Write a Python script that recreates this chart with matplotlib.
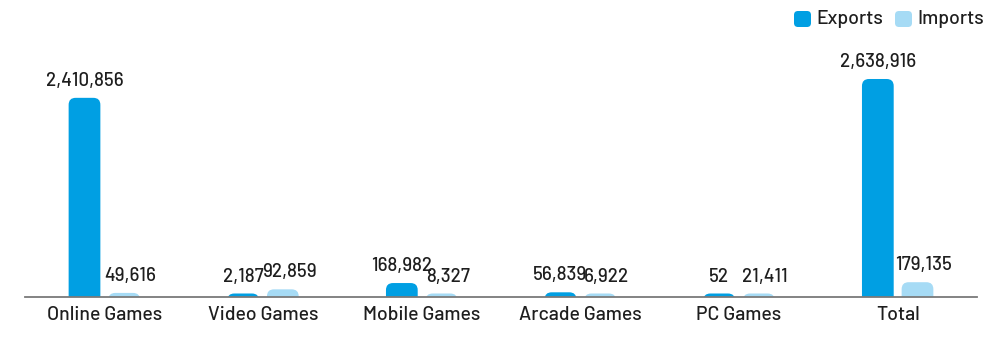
import matplotlib
matplotlib.use('Agg')
import matplotlib.pyplot as plt
from matplotlib.patches import FancyBboxPatch
import numpy as np

categories = ['Online Games', 'Video Games', 'Mobile Games', 'Arcade Games', 'PC Games', 'Total']
exports = [2410856, 2187, 168982, 56839, 52, 2638916]
imports = [49616, 92859, 8327, 6922, 21411, 179135]

EXP_COLOR = '#009fe3'
IMP_COLOR = '#a6dbf5'
TEXT_COLOR = '#1e1e1e'

plt.rcParams['font.family'] = ['Barlow', 'DejaVu Sans']
plt.rcParams['font.weight'] = 500

W, H = 994, 355
fig = plt.figure(figsize=(W / 100, H / 100), dpi=100)

# axes placed in pixel terms: baseline at y=297, categories from x=25 to x=977
ax_left, ax_right, ax_base, ax_top = 25, 977, 297, 20
ax = fig.add_axes([ax_left / W, (H - ax_base) / H, (ax_right - ax_left) / W, (ax_base - ax_top) / H])

n = len(categories)
ymax = 3.353e6
ax.set_xlim(-0.5, n - 0.5)
ax.set_ylim(0, ymax)

px_x = n / (ax_right - ax_left)          # data units per pixel, x
px_y = ymax / (ax_base - ax_top)          # data units per pixel, y
radius = 7 * px_x
min_h = 3.5 * px_y
bar_w = 0.2
offset = 0.125

x = np.arange(n)


def rounded_bar(xc, value, color, dx):
    top = max(value, min_h)
    bottom = -10 * px_y
    patch = FancyBboxPatch((xc - bar_w / 2, bottom), bar_w, top - bottom,
                           boxstyle=f'round,pad=0,rounding_size={radius}',
                           mutation_aspect=px_y / px_x,
                           facecolor=color, edgecolor='none', clip_on=True)
    ax.add_patch(patch)
    ax.annotate(f'{value:,}', (xc, top), xytext=(dx, 8.6), textcoords='offset points',
                ha='center', va='baseline', fontsize=13.5, color=TEXT_COLOR,
                annotation_clip=False)


for i in range(n):
    rounded_bar(x[i] - offset, exports[i], EXP_COLOR, 0)
    rounded_bar(x[i] + offset, imports[i], IMP_COLOR, 4.5)

ax.set_xticks(x)
ax.set_xticklabels(categories, fontsize=14, color=TEXT_COLOR)
ax.tick_params(axis='x', length=0, pad=6.5)
ax.set_yticks([])
for side in ['left', 'right', 'top']:
    ax.spines[side].set_visible(False)
ax.spines['bottom'].set_color('#7a7a7a')
ax.spines['bottom'].set_linewidth(1.3)
ax.spines['bottom'].set_zorder(3)

# legend drawn in pixel space on an overlay
lg = fig.add_axes([0, 0, 1, 1], zorder=5)
lg.set_xlim(0, W)
lg.set_ylim(H, 0)
lg.axis('off')
for mx, label, color in [(794, 'Exports', EXP_COLOR), (895, 'Imports', IMP_COLOR)]:
    lg.add_patch(FancyBboxPatch((mx, 11), 17, 16, boxstyle='round,pad=0,rounding_size=4',
                                facecolor=color, edgecolor='none'))
    lg.text(mx + 22, 19, label, fontsize=14, color=TEXT_COLOR, ha='left', va='center')

fig.savefig('out.png', dpi=100)
